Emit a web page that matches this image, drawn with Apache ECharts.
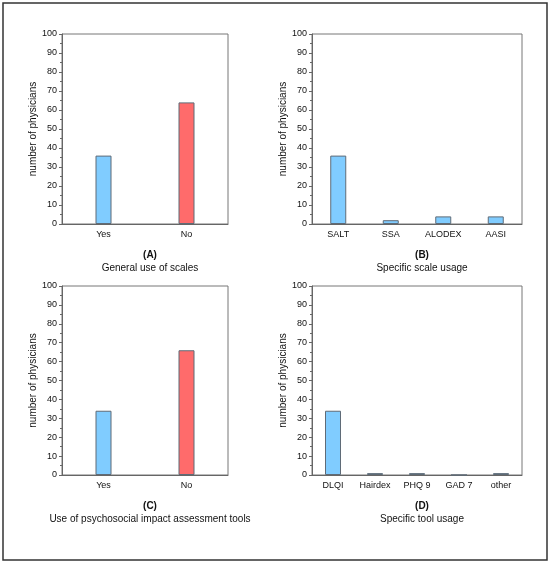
<!DOCTYPE html>
<html lang="en">
<head>
    <meta charset="UTF-8">
    <title>Physician survey</title>
    <script src="https://cdn.jsdelivr.net/npm/echarts@6/dist/echarts.min.js"></script>
    <style>
        html, body { margin: 0; padding: 0; background: #fff; }
        #main { width: 550px; height: 564px; }
    </style>
</head>
<body>
    <div id="main"></div>
    <script>
        // data
        var catA = ['Yes', 'No'];
        var valA = [36, 64];
        var catB = ['SALT', 'SSA', 'ALODEX', 'AASI'];
        var valB = [36, 2, 4, 4];
        var catC = ['Yes', 'No'];
        var valC = [34, 66];
        var catD = ['DLQI', 'Hairdex', 'PHQ 9', 'GAD 7', 'other'];
        var valD = [34, 1, 1, 0, 1];

        var panelTags = ['(A)', '(B)', '(C)', '(D)'];
        var panelTitles = [
            'General use of scales',
            'Specific scale usage',
            'Use of psychosocial impact assessment tools',
            'Specific tool usage'
        ];

        var BLUE = '#80ccff';
        var RED = '#ff6b6b';
        var FONT = '"Liberation Sans", Arial, sans-serif';

        // plot boxes [left, top, width, height]
        var boxes = [
            [62, 34, 166, 190],
            [312, 34, 210, 190],
            [62, 286, 166, 189],
            [312, 286, 210, 189]
        ];
        var cats = [catA, catB, catC, catD];
        var vals = [valA, valB, valC, valD];
        // two-bar panels: second bar red
        var colors = [[BLUE, RED], [BLUE], [BLUE, RED], [BLUE]];

        var grids = [], xAxes = [], yAxes = [], series = [], titles = [];

        boxes.forEach(function (b, i) {
            grids.push({
                left: b[0], top: b[1], width: b[2], height: b[3],
                show: true, borderColor: '#777', borderWidth: 1,
                backgroundColor: 'transparent'
            });
            xAxes.push({
                type: 'category', gridIndex: i, data: cats[i],
                axisLine: { lineStyle: { color: '#666' } },
                axisTick: { alignWithLabel: true, length: 3, lineStyle: { color: '#666' } },
                axisLabel: { color: '#111', fontSize: 9, fontFamily: FONT, margin: 6 }
            });
            yAxes.push({
                type: 'value', gridIndex: i, min: 0, max: 100, interval: 10,
                name: 'number of physicians', nameLocation: 'middle', nameGap: 20,
                nameTextStyle: { color: '#111', fontSize: 10, fontFamily: FONT },
                axisLine: { show: true, lineStyle: { color: '#666' } },
                axisTick: { show: true, length: 3, lineStyle: { color: '#666' } },
                minorTick: { show: true, splitNumber: 2, length: 2, lineStyle: { color: '#666' } },
                splitLine: { show: false },
                axisLabel: { color: '#111', fontSize: 9, fontFamily: FONT, margin: 5 }
            });
            var cols = colors[i];
            series.push({
                type: 'bar', xAxisIndex: i, yAxisIndex: i,
                barWidth: 16,
                data: vals[i].map(function (v, k) {
                    return { value: v, itemStyle: { color: cols[k % cols.length] } };
                }),
                itemStyle: { borderColor: '#5f6b77', borderWidth: 1 }
            });
            var cx = b[0] + b[2] / 2;
            var by = b[1] + b[3];
            titles.push({
                text: panelTags[i], left: cx, top: by + 21, textAlign: 'center',
                textStyle: { fontSize: 10, fontWeight: 'bold', color: '#111', fontFamily: FONT }
            });
            titles.push({
                text: panelTitles[i], left: cx, top: by + 34, textAlign: 'center',
                textStyle: { fontSize: 10, fontWeight: 'normal', color: '#111', fontFamily: FONT }
            });
        });

        var chart = echarts.init(document.getElementById('main'));
        chart.setOption({
            animation: false,
            backgroundColor: '#fff',
            textStyle: { fontFamily: FONT },
            title: titles,
            grid: grids,
            xAxis: xAxes,
            yAxis: yAxes,
            series: series,
            graphic: [{
                type: 'rect',
                shape: { x: 3, y: 3, width: 544, height: 557 },
                style: { fill: 'none', stroke: '#333', lineWidth: 1.5 },
                silent: true
            }]
        });
    </script>
</body>
</html>
